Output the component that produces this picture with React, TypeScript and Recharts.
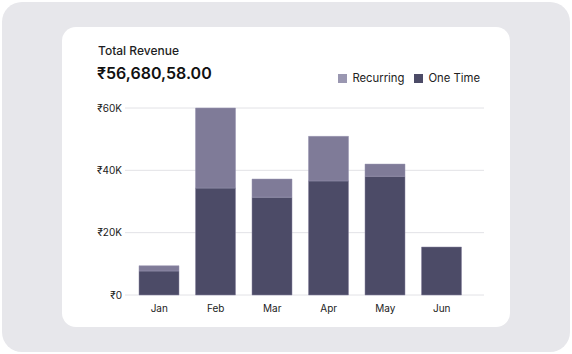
import React from 'react';
import { BarChart, Bar, XAxis, YAxis, CartesianGrid } from 'recharts';

const MONTHS = ['Jan', 'Feb', 'Mar', 'Apr', 'May', 'Jun'];
const ONE_TIME = [7700, 34300, 31400, 36600, 38100, 15400];
const RECURRING = [1700, 25700, 5800, 14300, 3900, 0];
const Y_TICKS = [0, 20000, 40000, 60000];

const COLOR_ONE = '#4c4b67';
const COLOR_REC = '#7f7b98';
const FONT = 'Inter, "Noto Sans", sans-serif';

const data = MONTHS.map((m, i) => ({ month: m, oneTime: ONE_TIME[i], recurring: RECURRING[i] }));

const fmtY = (v: number) => `₹${v / 1000}${v ? 'K' : ''}`;

function LegendItem({ color, label }: { color: string; label: string }) {
  return (
    <div style={{ display: 'flex', alignItems: 'center', marginLeft: 10 }}>
      <div style={{ width: 9, height: 9, background: color, marginRight: 5 }} />
      <span>{label}</span>
    </div>
  );
}

export default function App() {
  return (
    <div style={{ position: 'fixed', left: 0, top: 0, width: 572, height: 354, background: '#fff', fontFamily: FONT }}>
      <div style={{ position: 'absolute', left: 2, top: 2, width: 568, height: 350, borderRadius: 20, background: '#e7e7eb' }} />
      <div style={{ position: 'absolute', left: 62, top: 27, width: 448, height: 300, borderRadius: 14, background: '#fff' }} />
      <div style={{ position: 'absolute', left: 98, top: 43, fontSize: 12, fontWeight: 500, color: '#1e1e24' }}>Total Revenue</div>
      <div style={{ position: 'absolute', left: 97, top: 63, fontSize: 16, fontWeight: 600, color: '#111' }}>₹56,680,58.00</div>
      <div style={{ position: 'absolute', right: 92, top: 71, display: 'flex', fontSize: 11.3, color: '#222' }}>
        <LegendItem color="#9a97b1" label="Recurring" />
        <LegendItem color={COLOR_ONE} label="One Time" />
      </div>
      <div style={{ position: 'absolute', left: 0, top: 0 }}>
        <BarChart width={572} height={354} data={data} margin={{ top: 108, right: 88, bottom: 29, left: 75 }}>
          <CartesianGrid vertical={false} stroke="#e2e2e6" />
          <XAxis
            dataKey="month"
            height={30}
            axisLine={false}
            tickLine={false}
            tickSize={0}
            tickMargin={10}
            padding={{ left: 6, right: 14 }}
            tick={{ fill: '#222', fontSize: 10, fontFamily: FONT }}
          />
          <YAxis
            width={50}
            domain={[0, 60000]}
            ticks={Y_TICKS}
            tickFormatter={fmtY}
            axisLine={false}
            tickLine={false}
            tickSize={0}
            tickMargin={3}
            tick={{ fill: '#222', fontSize: 10, fontFamily: FONT }}
          />
          <Bar dataKey="oneTime" stackId="a" fill={COLOR_ONE} stroke="#8884a0" strokeWidth={0.5} barSize={40} isAnimationActive={false} />
          <Bar dataKey="recurring" stackId="a" fill={COLOR_REC} stroke="#9995b0" strokeWidth={0.5} barSize={40} isAnimationActive={false} />
        </BarChart>
      </div>
    </div>
  );
}
